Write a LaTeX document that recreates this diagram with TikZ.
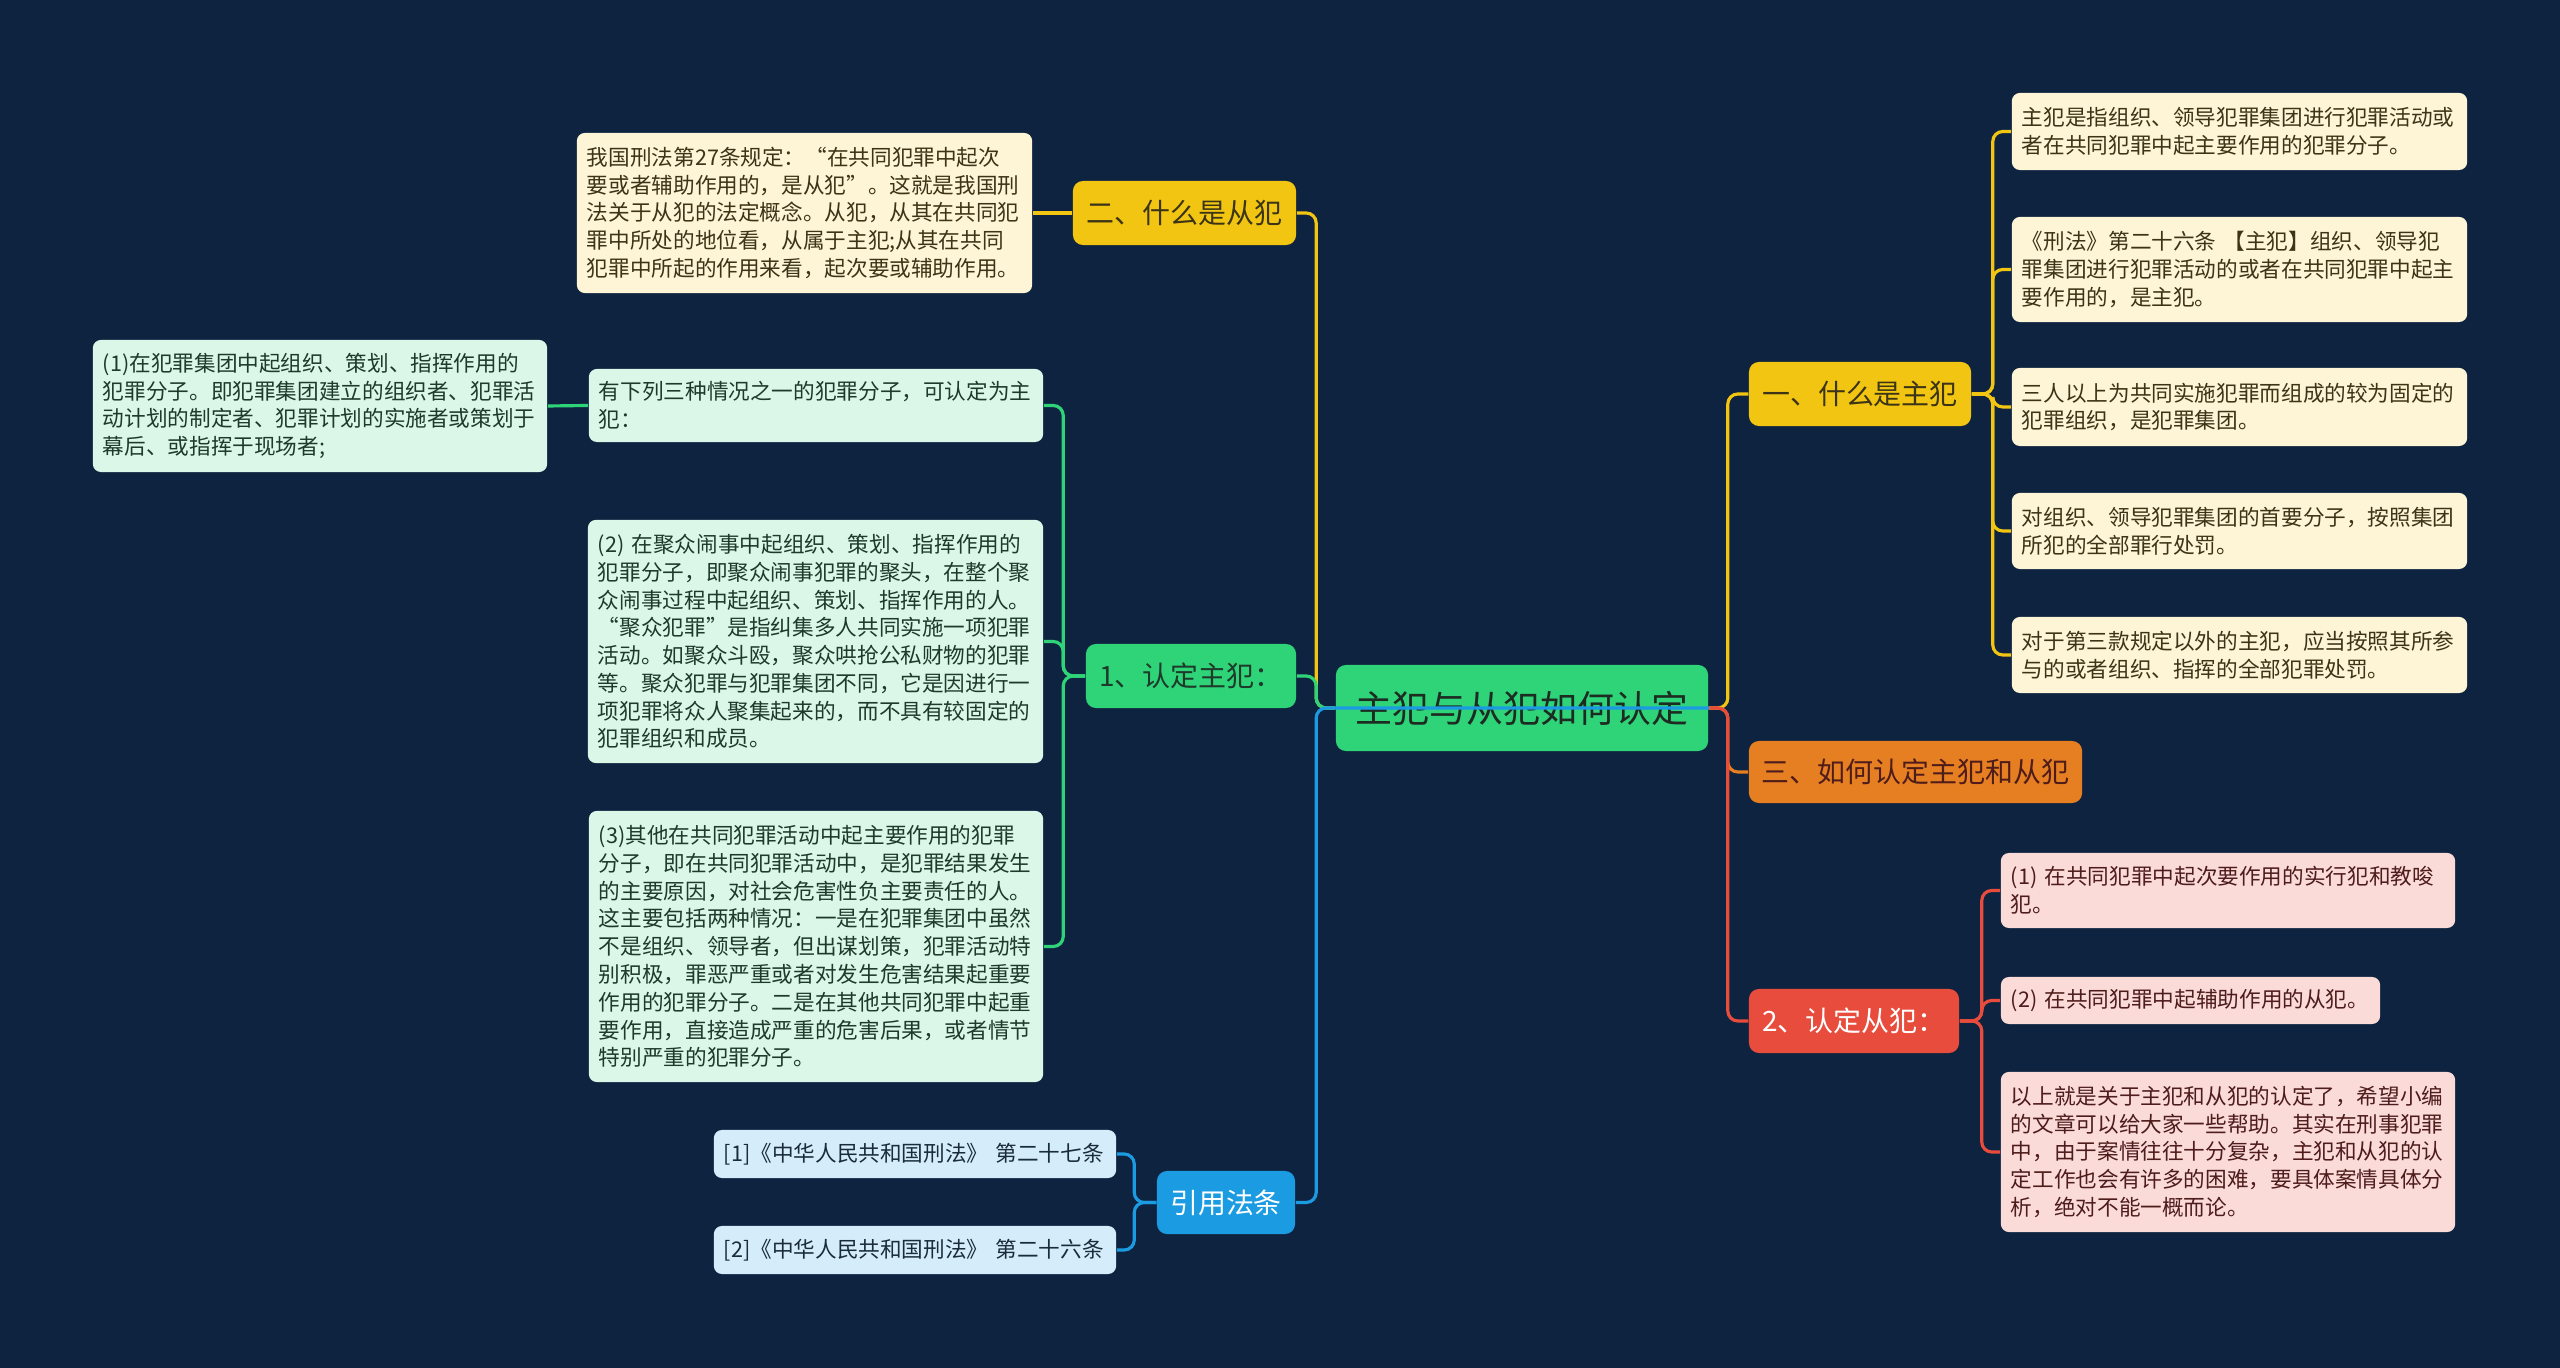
\documentclass[tikz,border=0pt]{standalone}
\usepackage{fontspec}
\setmainfont{Noto Sans CJK SC}
\usepackage{xcolor}
\usepackage{tikz}
\definecolor{MapBg}{HTML}{0E2340}
\definecolor{MapGreen}{HTML}{2ED477}
\definecolor{MapYellow}{HTML}{F2C512}
\definecolor{MapOrange}{HTML}{E67E22}
\definecolor{MapRed}{HTML}{E74C3C}
\definecolor{MapBlue}{HTML}{1B9BE2}
\definecolor{MapCream}{HTML}{FDF5D5}
\definecolor{MapMint}{HTML}{DAF7E7}
\definecolor{MapPink}{HTML}{FADBD8}
\definecolor{MapSky}{HTML}{D5EDFA}
\definecolor{InkDark}{HTML}{1D2B22}
\definecolor{InkOlive}{HTML}{3B3416}
\definecolor{InkForest}{HTML}{1E3A2B}
\definecolor{InkBrown}{HTML}{4E1C1A}
\definecolor{InkNavy}{HTML}{1A2B3C}
\newcommand\leafsize{\fontsize{6.15pt}{7.9pt}\selectfont}
\newcommand\mainsize{\fontsize{7.95pt}{9pt}\selectfont}
\newcommand\rootsize{\fontsize{10.5pt}{12pt}\selectfont}
\tikzset{
  topic/.style={rounded corners=0.1cm, inner sep=0pt, align=center, font=\mainsize},
  leaf/.style={rounded corners=0.08cm, inner xsep=0.1cm, inner ysep=0pt, align=left, font=\leafsize},
  link/.style={line width=0.9pt, rounded corners=0.1cm},
}

\begin{document}
\begin{tikzpicture}[x=0.01cm,y=-0.01cm]
\path[use as bounding box] (0,0) rectangle (2560,1368);
\fill[MapBg] (0,0) rectangle (2560,1368);
\node[topic, font=\rootsize, fill=MapGreen, text=InkDark, minimum width=3.72cm, minimum height=0.86cm] (root) at (1522,708) {主犯与从犯如何认定};
\node[topic, fill=MapYellow, text=InkOlive, minimum width=2.23cm, minimum height=0.64cm] (n2) at (1184.5,213) {二、什么是从犯};
\node[topic, fill=MapGreen, text=InkForest, minimum width=2.10cm, minimum height=0.64cm] (n1) at (1191,676) {1、认定主犯：};
\node[topic, fill=MapBlue, text=white, minimum width=1.38cm, minimum height=0.63cm] (cite) at (1226,1202.5) {引用法条};
\node[topic, fill=MapYellow, text=InkOlive, minimum width=2.22cm, minimum height=0.64cm] (na) at (1860,394) {一、什么是主犯};
\node[topic, fill=MapOrange, text=InkBrown, minimum width=3.33cm, minimum height=0.62cm] (nc) at (1915.5,772) {三、如何认定主犯和从犯};
\node[topic, fill=MapRed, text=white, minimum width=2.10cm, minimum height=0.64cm] (nb) at (1854,1021) {2、认定从犯：};

\node[leaf, fill=MapCream, text=InkOlive, text width=4.35cm, minimum height=1.60cm] (d2) at (804.5,213) {我国刑法第27条规定：“在共同犯罪中起次\\要或者辅助作用的，是从犯”。这就是我国刑\\法关于从犯的法定概念。从犯，从其在共同犯\\罪中所处的地位看，从属于主犯;从其在共同\\犯罪中所起的作用来看，起次要或辅助作用。};
\node[leaf, fill=MapMint, text=InkForest, text width=4.34cm, minimum height=0.73cm] (g1) at (816,405.5) {有下列三种情况之一的犯罪分子，可认定为主\\犯：};
\node[leaf, fill=MapMint, text=InkForest, text width=4.34cm, minimum height=1.32cm] (g1a) at (320,406) {(1)在犯罪集团中起组织、策划、指挥作用的\\犯罪分子。即犯罪集团建立的组织者、犯罪活\\动计划的制定者、犯罪计划的实施者或策划于\\幕后、或指挥于现场者;};
\node[leaf, fill=MapMint, text=InkForest, text width=4.35cm, minimum height=2.43cm] (g2) at (815.5,641.5) {(2) 在聚众闹事中起组织、策划、指挥作用的\\犯罪分子，即聚众闹事犯罪的聚头，在整个聚\\众闹事过程中起组织、策划、指挥作用的人。\\“聚众犯罪”是指纠集多人共同实施一项犯罪\\活动。如聚众斗殴，聚众哄抢公私财物的犯罪\\等。聚众犯罪与犯罪集团不同，它是因进行一\\项犯罪将众人聚集起来的，而不具有较固定的\\犯罪组织和成员。};
\node[leaf, fill=MapMint, text=InkForest, text width=4.34cm, minimum height=2.71cm] (g3) at (816,946.5) {(3)其他在共同犯罪活动中起主要作用的犯罪\\分子，即在共同犯罪活动中，是犯罪结果发生\\的主要原因，对社会危害性负主要责任的人。\\这主要包括两种情况：一是在犯罪集团中虽然\\不是组织、领导者，但出谋划策，犯罪活动特\\别积极，罪恶严重或者对发生危害结果起重要\\作用的犯罪分子。二是在其他共同犯罪中起重\\要作用，直接造成严重的危害后果，或者情节\\特别严重的犯罪分子。};
\node[leaf, fill=MapSky, text=InkNavy, text width=3.82cm, minimum height=0.48cm] (c1) at (915,1154) {[1]《中华人民共和国刑法》 第二十七条};
\node[leaf, fill=MapSky, text=InkNavy, text width=3.82cm, minimum height=0.48cm] (c2) at (915,1250) {[2]《中华人民共和国刑法》 第二十六条};

\node[leaf, fill=MapCream, text=InkOlive, text width=4.35cm, minimum height=0.77cm] (a1) at (2239.5,131.5) {主犯是指组织、领导犯罪集团进行犯罪活动或\\者在共同犯罪中起主要作用的犯罪分子。};
\node[leaf, fill=MapCream, text=InkOlive, text width=4.35cm, minimum height=1.05cm] (a2) at (2239.5,269.5) {《刑法》第二十六条 【主犯】组织、领导犯\\罪集团进行犯罪活动的或者在共同犯罪中起主\\要作用的，是主犯。};
\node[leaf, fill=MapCream, text=InkOlive, text width=4.35cm, minimum height=0.78cm] (a3) at (2239.5,407) {三人以上为共同实施犯罪而组成的较为固定的\\犯罪组织，是犯罪集团。};
\node[leaf, fill=MapCream, text=InkOlive, text width=4.35cm, minimum height=0.76cm] (a4) at (2239.5,531) {对组织、领导犯罪集团的首要分子，按照集团\\所犯的全部罪行处罚。};
\node[leaf, fill=MapCream, text=InkOlive, text width=4.35cm, minimum height=0.76cm] (a5) at (2239.5,655) {对于第三款规定以外的主犯，应当按照其所参\\与的或者组织、指挥的全部犯罪处罚。};
\node[leaf, fill=MapPink, text=InkBrown, text width=4.34cm, minimum height=0.75cm] (r1) at (2228,890.5) {(1) 在共同犯罪中起次要作用的实行犯和教唆\\犯。};
\node[leaf, fill=MapPink, text=InkBrown, text width=3.59cm, minimum height=0.47cm] (r2) at (2190.5,1000.5) {(2) 在共同犯罪中起辅助作用的从犯。};
\node[leaf, fill=MapPink, text=InkBrown, text width=4.34cm, minimum height=1.60cm] (r3) at (2228,1152) {以上就是关于主犯和从犯的认定了，希望小编\\的文章可以给大家一些帮助。其实在刑事犯罪\\中，由于案情往往十分复杂，主犯和从犯的认\\定工作也会有许多的困难，要具体案情具体分\\析，绝对不能一概而论。};

\draw[link, MapYellow] (root.west) -- ++(-19,0) |- (n2.east);
\draw[link, MapGreen] (root.west) -- ++(-19,0) |- (n1.east);
\draw[link, MapYellow] (root.east) -- ++(19,0) |- (na.west);
\draw[link, MapOrange] (root.east) -- ++(19,0) |- (nc.west);
\draw[link, MapRed] (root.east) -- ++(19,0) |- (nb.west);
\draw[link, MapBlue] (root.east) -- (root.west) -- ++(-19,0) |- (cite.east);

\draw[link, MapYellow] (n2.west) -- (d2.east);
\draw[link, MapGreen] (n1.west) -- ++(-22,0) |- (g1.east);
\draw[link, MapGreen] (n1.west) -- ++(-22,0) |- (g2.east);
\draw[link, MapGreen] (n1.west) -- ++(-22,0) |- (g3.east);
\draw[link, MapGreen] (g1.west) -- (g1a.east);
\draw[link, MapBlue] (cite.west) -- ++(-22,0) |- (c1.east);
\draw[link, MapBlue] (cite.west) -- ++(-22,0) |- (c2.east);

\draw[link, MapYellow] (na.east) -- ++(21,0) |- (a1.west);
\draw[link, MapYellow] (na.east) -- ++(21,0) |- (a2.west);
\draw[link, MapYellow] (na.east) -- ++(21,0) |- (a3.west);
\draw[link, MapYellow] (na.east) -- ++(21,0) |- (a4.west);
\draw[link, MapYellow] (na.east) -- ++(21,0) |- (a5.west);
\draw[link, MapRed] (nb.east) -- ++(22,0) |- (r1.west);
\draw[link, MapRed] (nb.east) -- ++(22,0) |- (r2.west);
\draw[link, MapRed] (nb.east) -- ++(22,0) |- (r3.west);
\end{tikzpicture}
\end{document}
